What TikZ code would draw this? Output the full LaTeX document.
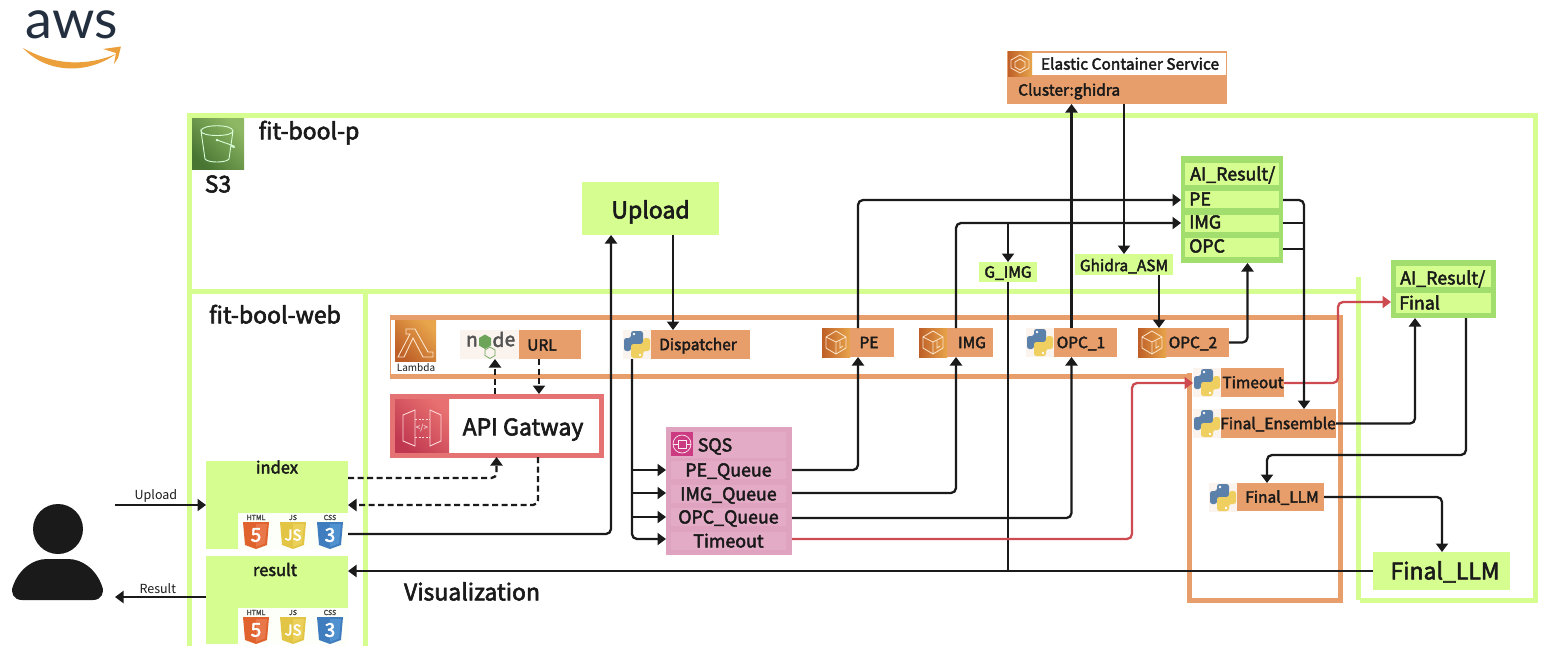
\documentclass[tikz,border=0pt]{standalone}
\usepackage{fontspec}
\setmainfont{Noto Sans CJK SC}[FakeBold=2.6]
\newfontfamily\plainf{Noto Sans CJK SC}
\newfontfamily\awsf{Lato}
\usetikzlibrary{arrows.meta,calc}
\definecolor{ink}{HTML}{1A1A1A}
\definecolor{lime}{HTML}{D5FD8F}
\definecolor{limeD}{HTML}{A1DE6E}
\definecolor{org}{HTML}{E89E6B}
\definecolor{redL}{HTML}{E57373}
\definecolor{redA}{HTML}{CC4A50}
\definecolor{pinkB}{HTML}{E0A3BF}
\definecolor{pinkR}{HTML}{E3ABC6}
\definecolor{pale}{HTML}{FBF3EE}
\definecolor{pyblue}{HTML}{5B80AA}
\definecolor{pyyel}{HTML}{EECF60}
\definecolor{awsink}{HTML}{232F3E}
\definecolor{awsorg}{HTML}{ECA03C}
\definecolor{nodeg}{HTML}{6CA55A}
\definecolor{sqsm}{HTML}{CC3A82}
\definecolor{cubeA}{HTML}{BE5F28}
\definecolor{cubeB}{HTML}{E8A54B}
\definecolor{s3A}{HTML}{487532}
\definecolor{s3B}{HTML}{8EB864}
\definecolor{apiA}{HTML}{C03850}
\definecolor{apiB}{HTML}{E87070}
\definecolor{htmlA}{HTML}{E0622D}
\definecolor{htmlB}{HTML}{E8774A}
\definecolor{jsA}{HTML}{E3C545}
\definecolor{jsB}{HTML}{EBD159}
\definecolor{cssA}{HTML}{3F7DBE}
\definecolor{cssB}{HTML}{5092D0}
\tikzset{
  frame/.style={line width=5pt,color=lime},
  oframe/.style={line width=5pt,color=org},
  bx/.style={rectangle,inner sep=0pt,outer sep=0pt,text=ink},
  t11/.style={font=\plainf\fontsize{12.5}{12.5}\selectfont,text=ink},
  t15/.style={font=\fontsize{15.5}{15.5}\selectfont,text=ink,text height=11.3pt,text depth=0pt},
  t16/.style={font=\fontsize{16.5}{16.5}\selectfont,text=ink,text height=12pt,text depth=0pt},
  t18/.style={font=\fontsize{17.8}{17.8}\selectfont,text=ink,text height=13pt,text depth=0pt},
  t21/.style={font=\fontsize{23}{23}\selectfont,text=ink,text height=16.8pt,text depth=0pt},
  conn/.style={draw=ink,line width=2.3pt,rounded corners=5pt,-{Triangle[width=12pt,length=8.5pt]}},
  link/.style={draw=ink,line width=2.3pt,rounded corners=5pt},
  dashc/.style={conn,dash pattern=on 6pt off 3.5pt},
  redc/.style={conn,draw=redA,-{Triangle[width=12pt,length=8.5pt,fill=redA]}},
  gliph/.style={draw=white!80!orange,line width=0.8pt,fill=none},
  cubeshade/.style={left color=cubeA,right color=cubeB},
}
% #1 style, #2 name, #3 x1, #4 y1, #5 x2, #6 y2, #7 text
\newcommand\bxn[7][]{\node[bx,minimum width={(#5-#3)*1pt},minimum height={(#6-#4)*1pt},#1] (#2) at ({(#3+#5)/2},{(#4+#6)/2}) {#7};}
\newcommand\pysnake[1]{\fill[#1,rounded corners=2.5pt] (8,8) -- (8,1) -- (20,1) -- (20,15) -- (8,15) -- (8,21) -- (1,21) -- (1,8) -- cycle;}
\newcommand\pyicon[2]{\begin{scope}[shift={(#1,#2)}]
  \fill[pale] (0,0) rectangle (28,29);
  \pysnake{pyblue}
  \begin{scope}[shift={(28,29)},xscale=-1,yscale=-1]
    \pysnake{pyyel}
    \fill[white] (11,4) circle (1.3);
  \end{scope}
  \fill[white] (11,4) circle (1.3);
\end{scope}}
\newcommand\cubeicon[2]{\begin{scope}[shift={(#1,#2)}]
  \shade[cubeshade] (0,0) rectangle (28,29);
  \draw[gliph] (14,3) -- (24,9) -- (24,20) -- (14,26) -- (4,20) -- (4,9) -- cycle (4,9) -- (14,14) -- (24,9) (14,14) -- (14,26) (18,13) -- (18,20) -- (21,18);
\end{scope}}
% #1 name #2 x1 #3 xmid #4 x2 #5 y1 #6 y2 #7 icon macro #8 text #9 text x
\newcommand\svc[9]{
  \fill[org] (#3,#5) rectangle (#4,#6);
  #7{#2}{#5}
  \bxn{#1}{#2}{#5}{#4}{#6}{}
  \node[t15,anchor=center,inner sep=0pt] (#1t) at (#9,{(#5+#6)/2}) {#8};
}
\newcommand\shield[5]{\begin{scope}[shift={(#1,#2)}]
  \fill[#3] (0,0) -- (26,0) -- (24,23) -- (13,27) -- (2,23) -- cycle;
  \fill[#4] (13,2) -- (24,2) -- (22,21.5) -- (13,25) -- cycle;
  \node[bx,text=white,font=\fontsize{19}{19}\selectfont] at (13,13) {#5};
\end{scope}}
\newcommand\webicons[2]{\begin{scope}[shift={(#1,#2)}]
  \fill[white!95!lime] (0,0) rectangle (110,36.5);
  \node[bx,text=ink!80,font=\fontsize{7}{7}\selectfont] at (18,5) {HTML};
  \node[bx,text=ink!80,font=\fontsize{7}{7}\selectfont] at (55,5) {JS};
  \node[bx,text=ink!80,font=\fontsize{7}{7}\selectfont] at (92,5) {CSS};
  \shield{5}{9.5}{htmlA}{htmlB}{5}
  \shield{42}{9.5}{jsA}{jsB}{\fontsize{15}{15}\selectfont JS}
  \shield{79}{9.5}{cssA}{cssB}{3}
\end{scope}}
\begin{document}
\begin{tikzpicture}[x=1pt,y=-1pt]
\useasboundingbox (0,0) rectangle (1553,646);
\fill[white] (0,0) rectangle (1553,646);

% AWS logo
\node[bx,text=awsink,font=\awsf\fontsize{54}{54}\selectfont] (aws) at (72,25) {aws};
\fill[awsorg] (23,48) .. controls (45,72) and (85,76) .. (116,54) .. controls (88,66) and (55,66) .. (23,48) -- cycle;
\fill[awsorg] (103,49) -- (121,46.5) -- (118,58) -- (114,64) -- (116,53) -- cycle;

% green frames
\draw[frame] (189,646) -- (189,115) -- (1535,115) -- (1535,600) -- (1360,600);
\draw[frame] (1358,277) -- (1358,600);
\draw[frame] (189,291) -- (1356,291);
\draw[frame] (365,291) -- (365,646);

% orange frames
\draw[oframe] (390,317) -- (1340,317);
\draw[oframe] (390,376) -- (1190,376);
\draw[oframe] (1340,315) -- (1340,603);
\draw[oframe] (1189,373) -- (1189,600) -- (1342,600);
\draw[line width=1pt,color=org] (390,315) -- (390,378);

% titles
\node[bx,t21] (fitp) at (309,131) {fit-bool-p};
\node[bx,t21] (fits3) at (218,184) {S3};
\node[bx,t21] (fitw) at (275,315) {fit-bool-web};
\node[bx,t21] (vis) at (472,592) {Visualization};

% S3 icon
\shade[top color=s3B,bottom color=s3A,shading angle=-45] (192,118) rectangle (244,169);
\draw[white!85!green,line width=0.9pt] (201,131) .. controls (201,124) and (233,124) .. (233,131) .. controls (233,137) and (201,137) .. (201,131) -- (205,159) .. controls (208,163) and (226,163) .. (229,159) -- (233,131);
\draw[white!85!green,line width=0.9pt] (217,140) -- (234,146) .. controls (236,148) and (232,148) .. (231,146);
\fill[white!85!green] (217,140) circle (1.3);

% Lambda
\shade[top color=cubeB,bottom color=cubeA,shading angle=-45] (395,320) rectangle (436,361);
\draw[white!80!orange,line width=0.9pt] (406,329) -- (415,329) -- (428,352) -- (433,352) -- (433,357) -- (423,357) -- (413,338) -- (404,357) -- (398,357) -- (410,334) -- (406,334) -- cycle;
\node[bx,font=\plainf\fontsize{10}{10}\selectfont] (lambda) at (416,368) {Lambda};

% URL with node logo
\fill[pale] (460,330) rectangle (519,359);
\node[bx,text=ink!75,font=\fontsize{19}{19}\selectfont] at (472,341) {n};
\fill[nodeg] (485,334.5) -- (491,338) -- (491,345.5) -- (485,349) -- (479,345.5) -- (479,338) -- cycle;
\node[bx,text=ink!75,font=\fontsize{19}{19}\selectfont] at (498.5,339.5) {d};
\node[bx,text=ink!75,font=\fontsize{19}{19}\selectfont] at (510,341) {e};
\draw[nodeg,line width=0.7pt] (490,347) -- (495,350) -- (495,355.5) -- (490,358.5) -- (485,355.5) -- (485,350) -- cycle;
\fill[org] (519,330) rectangle (581,359);
\bxn{url}{460}{330}{581}{359}{}
\node[t15,inner sep=0pt] (urlt) at (542,345) {URL};

% Dispatcher
\svc{disp}{623}{651}{750}{330}{359}{\pyicon}{Dispatcher}{698}

% API Gateway
\draw[line width=5pt,color=redL] (392.5,396.5) rectangle (601,455);
\bxn{api}{390}{394}{603}{457}{}
\shade[top color=apiB,bottom color=apiA,shading angle=-45] (395,399) rectangle (449,452);
\draw[white!85!red,line width=0.9pt] (403,415) -- (415,410) -- (415,446) -- (403,441) -- cycle;
\draw[white!85!red,line width=0.9pt] (441,415) -- (430,410) -- (430,446) -- (441,441) -- cycle;
\draw[white!85!red,line width=0.9pt,dash pattern=on 2pt off 1.5pt] (415,419) -- (430,419) (415,437) -- (430,437);
\node[bx,text=white,font=\plainf\fontsize{8}{8}\selectfont] at (422,428) {</>};
\node[t21,inner sep=0pt] (apit) at (523,427) {API Gatway};

% SQS
\bxn[fill=pinkB]{sqs}{666}{427}{792}{555}{}
\fill[pinkR] (671,432) rectangle (786,458);
\fill[sqsm] (671,432) rectangle (693,456);
\draw[white!80!pinkB,line width=0.7pt] (682,444) circle (9);
\draw[white!80!pinkB,line width=0.7pt] (678,440) rectangle (686,448) (673,444) -- (678,444) (686,444) -- (691,444);
\node[bx,t18] (sqst) at (715,445) {SQS};
\bxn[fill=pinkR,t18]{peq}{671}{461}{786}{479}{PE\_Queue}
\bxn[fill=pinkR,t18]{imgq}{671}{485}{786}{503}{IMG\_Queue}
\bxn[fill=pinkR,t18]{opcq}{671}{508}{786}{526}{OPC\_Queue}
\bxn[fill=pinkR,t18]{toq}{671}{532}{786}{550}{Timeout}
% port coordinates on the outer box
\coordinate (peqw) at (666,470); \coordinate (imgqw) at (666,493); \coordinate (opcqw) at (666,517); \coordinate (toqw) at (666,539);
\coordinate (peqe) at (792,470); \coordinate (imgqe) at (792,493); \coordinate (opcqe) at (792,518); \coordinate (toqe) at (792,539);

% Lambdas row
\svc{pe}{822}{849}{894}{328}{357}{\cubeicon}{PE}{869}
\svc{img}{919}{947}{993}{328}{357}{\cubeicon}{IMG}{972}
\svc{opca}{1026}{1054}{1117}{328}{357}{\pyicon}{OPC\_1}{1081}
\svc{opcb}{1138}{1166}{1229}{328}{357}{\cubeicon}{OPC\_2}{1193}
\svc{timeout}{1193}{1221}{1284}{368}{397}{\pyicon}{Timeout}{1253}
\svc{ens}{1193}{1221}{1336}{409}{438}{\pyicon}{Final\_Ensemble}{1278}
\svc{llm}{1209}{1237}{1324}{483}{511}{\pyicon}{Final\_LLM}{1282}

% ECS
\bxn[fill=org]{ecs}{1007}{51}{1227}{104}{}
\fill[white] (1032,53) rectangle (1226,75);
\shade[cubeshade] (1008,51) rectangle (1032,76);
\draw[gliph] (1020,55) -- (1029,60) -- (1029,68) -- (1020,73) -- (1011,68) -- (1011,60) -- cycle (1020,59) -- (1025,62) -- (1025,67) -- (1020,70) -- (1015,67) -- (1015,62) -- cycle;
\node[t15,inner sep=0pt] (ecst) at (1130,64) {Elastic Container Service};
\node[t15,anchor=west,inner sep=0pt] (clu) at (1018,90) {Cluster:ghidra};

% Upload
\bxn[fill=lime,t21]{upload}{582}{182}{719}{235}{\raisebox{-1.5pt}{Upload}}
\bxn[fill=lime,t15]{gimg}{979}{262}{1037}{282}{G\_IMG}
\bxn[fill=lime,t15]{gasm}{1075}{254}{1173}{275}{\raisebox{-1pt}{Ghidra\_ASM}}

% AI result
\bxn[fill=limeD]{ai}{1181}{156}{1283}{263}{}
\fill[lime] (1185,163) rectangle (1279,185);
\bxn[fill=lime]{aipe}{1185}{191}{1279}{208}{}
\bxn[fill=lime]{aiimg}{1185}{215}{1279}{232}{}
\bxn[fill=lime]{aiopc}{1185}{238}{1279}{257}{}
\node[t18,anchor=west,inner sep=0pt] (ait) at (1190,174) {AI\_Result/};
\node[t18,anchor=west,inner sep=0pt] at (1189,199) {PE};
\node[t18,anchor=west,inner sep=0pt] at (1189,222) {IMG};
\node[t18,anchor=west,inner sep=0pt] at (1189,246) {OPC};

\bxn[fill=limeD]{fin}{1391}{260}{1496}{318}{}
\fill[lime] (1396,266) rectangle (1491,287);
\fill[lime] (1396,293) rectangle (1491,313);
\node[t18,anchor=west,inner sep=0pt] (fint) at (1400,278) {AI\_Result/};
\node[t18,anchor=west,inner sep=0pt] at (1399,303) {Final};

\bxn[fill=lime,t21]{fllm}{1373}{552}{1510}{590}{\hspace*{7pt}Final\_LLM}

% index / result
\bxn[fill=lime]{index}{206}{461}{348}{549}{}
\bxn[fill=lime]{result}{206}{556}{348}{644}{}
\node[t16,inner sep=0pt] (indext) at (277,467.5) {index};
\node[t16,inner sep=0pt] (resultt) at (275,570) {result};
\webicons{238}{512.5}
\webicons{238}{607.5}

% person
\fill[ink] (58,529) circle (25);
\fill[ink] (22,600) -- (93,600) .. controls (101,600) and (105,593) .. (102,586) .. controls (96,569) and (82,559) .. (68,559) -- (47,559) .. controls (33,559) and (19,569) .. (13,586) .. controls (10,593) and (14,600) .. (22,600) -- cycle;
\coordinate (person) at (115,505);
\coordinate (personb) at (115,597);

% connectors
\draw[conn] (person) -- node[bx,t11,pos=.45,above=3pt] {Upload} (index.west |- person);
\draw[conn] ([yshift=3pt]result.west) -- node[bx,t11,pos=.53,above=3pt] {Result} (personb);
\draw[dashc] ([yshift=27pt]index.east) -| (api.south);
\draw[dashc] ([xshift=41.5pt]api.south) |- (index.east);
\draw[conn] ([yshift=-29pt]index.east) -| ([xshift=-39.5pt]upload.south);
\draw[dashc] ([xshift=-1.5pt]api.north) -- ([xshift=-25.5pt]url.south);
\draw[dashc] ([xshift=18.5pt]url.south) -- ([xshift=42.5pt]api.north);
\draw[conn] ([xshift=22.5pt]upload.south) -- ([xshift=-13.5pt]disp.north);
\draw[conn] (632,470) -- (peqw);
\draw[conn] (632,493) -- (imgqw);
\draw[conn] (632,517) -- (opcqw);
\draw[conn] ([xshift=-54.5pt]disp.south) |- (toqw);
\draw[conn] (peqe) -| (pe.south);
\draw[conn] (pe.north) |- (ai.west |- 0,200);
\draw[conn] (imgqe) -| (img.south);
\draw[conn] (img.north) |- (ai.west |- 0,223);
\draw[conn] (gimg.north |- 0,223) -- (gimg.north);
\draw[link] (gimg.south) -- (gimg.south |- fllm.west);
\draw[conn] (opcqe) -| (opca.south);
\draw[conn] (opca.north) -- (opca.north |- ecs.south);
\draw[conn] ([xshift=7pt]ecs.south) -- (gasm.north);
\draw[conn] ([xshift=35pt]gasm.south) -- ([xshift=-24.5pt]opcb.north);
\draw[conn] (opcb.east) -| ([xshift=15.5pt]ai.south);
\draw[conn] (fllm.west) -- (result.east |- fllm.west);
\draw[redc] (toqe) -- (1132,539) -- (1132,383) -- (timeout.west |- 0,383);
\draw[redc] (timeout.east |- 0,383) -- (1338,383) -- (1338,302) -- (fin.west |- 0,302);
\draw[conn] (ai.east |- 0,200) -- (1304,200) -- (1304,409);
\draw[link] (ai.east |- 0,223) -- (1304,223);
\draw[link] (ai.east |- 0,249) -- (1304,249);
\draw[conn] (ens.east) -| ([xshift=-28.5pt]fin.south);
\draw[conn] ([xshift=22.5pt]fin.south) |- (1267,455) -- (llm.north -| 1267,0);
\draw[conn] (llm.east) -| (fllm.north -| 1442,0);
\end{tikzpicture}
\end{document}
